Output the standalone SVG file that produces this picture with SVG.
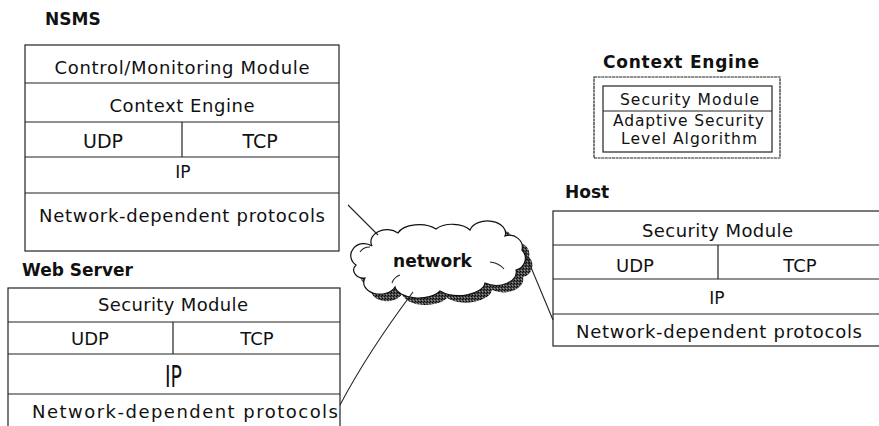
<svg xmlns="http://www.w3.org/2000/svg" width="879" height="426" viewBox="0 0 879 426">
  <style>
    .box { fill: #fff; stroke: #222; stroke-width: 1.2; }
    .div { stroke: #222; stroke-width: 1.2; fill: none; }
    .t { font-family: "DejaVu Sans", "Liberation Sans", sans-serif; font-size: 18px; fill: #111; text-anchor: middle; }
    .s { font-size: 15.5px; }
    .lbl { font-family: "DejaVu Sans", "Liberation Sans", sans-serif; font-size: 17px; font-weight: bold; fill: #111; }
    .wire { stroke: #222; stroke-width: 1.1; fill: none; }
  </style>
  <defs>
    <pattern id="grain" width="3" height="3" patternUnits="userSpaceOnUse">
      <rect width="3" height="3" fill="#4a4a4a"/>
      <rect x="0" y="0" width="1" height="1" fill="#000"/>
      <rect x="2" y="1" width="1" height="1" fill="#111"/>
      <rect x="1" y="2" width="1" height="1" fill="#999"/>
    </pattern>
    <path id="cloudShape" d="M 372,246 A 16,12 0 0 1 398,233 A 22,12 0 0 1 436,229 A 20,11 0 0 1 470,230 A 18,12 0 0 1 505,236 A 13,12 0 0 1 522,250 A 12,12 0 0 1 516,270 A 20,13 0 0 1 485,283 A 26,14 0 0 1 440,291 A 24,13 0 0 1 395,287 A 14,10 0 0 1 365,278 A 10,8 0 0 1 356,265 A 10,9 0 0 1 372,246 Z"/>
  </defs>

  <!-- NSMS protocol stack -->
  <g id="nsms">
    <text class="lbl" x="45" y="25">NSMS</text>
    <rect class="box" x="25" y="45" width="314" height="206"/>
    <line class="div" x1="25" y1="83" x2="339" y2="83"/>
    <line class="div" x1="25" y1="122" x2="339" y2="122"/>
    <line class="div" x1="25" y1="157" x2="339" y2="157"/>
    <line class="div" x1="25" y1="193" x2="339" y2="193"/>
    <line class="div" x1="182" y1="122" x2="182" y2="157"/>
    <text class="t" x="182" y="74" textLength="255">Control/Monitoring Module</text>
    <text class="t" x="182" y="112" textLength="145">Context Engine</text>
    <text class="t" x="103" y="148" style="font-size:19px">UDP</text>
    <text class="t" x="260" y="148" style="font-size:19px">TCP</text>
    <text class="t" x="183" y="178" style="font-size:17px">IP</text>
    <text class="t" x="182" y="222" textLength="286">Network-dependent protocols</text>
  </g>

  <!-- Context Engine detail -->
  <g id="context-engine">
    <text class="lbl" x="603" y="68" textLength="156">Context Engine</text>
    <rect class="box" x="594" y="77" width="186" height="81" stroke-dasharray="3 0.6"/>
    <rect class="box" x="603" y="86" width="169" height="66"/>
    <line class="div" x1="603" y1="111" x2="772" y2="111"/>
    <text class="t s" x="689.5" y="105" textLength="139">Security Module</text>
    <text class="t s" x="688.5" y="126" textLength="151">Adaptive Security</text>
    <text class="t s" x="689" y="144" textLength="136">Level Algorithm</text>
  </g>

  <!-- Host protocol stack -->
  <g id="host">
    <text class="lbl" x="565" y="198">Host</text>
    <rect class="box" x="553" y="211" width="340" height="135"/>
    <line class="div" x1="553" y1="245" x2="879" y2="245"/>
    <line class="div" x1="553" y1="279" x2="879" y2="279"/>
    <line class="div" x1="553" y1="314" x2="879" y2="314"/>
    <line class="div" x1="718" y1="245" x2="718" y2="279"/>
    <text class="t" x="717.5" y="237" textLength="151">Security Module</text>
    <text class="t" x="635" y="272">UDP</text>
    <text class="t" x="800" y="272">TCP</text>
    <text class="t" x="717" y="304" style="font-size:17px">IP</text>
    <text class="t" x="719" y="338" textLength="286">Network-dependent protocols</text>
  </g>

  <!-- Web Server protocol stack -->
  <g id="web-server">
    <text class="lbl" x="22" y="276">Web Server</text>
    <rect class="box" x="8" y="288" width="332" height="160"/>
    <line class="div" x1="8" y1="322" x2="340" y2="322"/>
    <line class="div" x1="8" y1="354" x2="340" y2="354"/>
    <line class="div" x1="8" y1="394" x2="340" y2="394"/>
    <line class="div" x1="173" y1="322" x2="173" y2="354"/>
    <text class="t" x="173" y="311" textLength="150">Security Module</text>
    <text class="t" x="90" y="345">UDP</text>
    <text class="t" x="257" y="345">TCP</text>
    <text class="t" x="173.5" y="387" style="font-size:30px" textLength="17" lengthAdjust="spacingAndGlyphs">IP</text>
    <text class="t" x="185" y="418" textLength="306">Network-dependent protocols</text>
  </g>

  <!-- Network cloud with halftone drop shadow -->
  <g id="network">
    <use href="#cloudShape" transform="translate(7,7)" fill="url(#grain)"/>
    <use href="#cloudShape" fill="#fff" stroke="#111" stroke-width="1.2"/>
    <path class="wire" d="M 360,252 q 3,-5 10,-5"/>
    <path class="wire" d="M 490,262 q 9,1 14,7"/>
    <path class="wire" d="M 392,283 q 2,-6 8,-8"/>
    <text x="432.5" y="267" text-anchor="middle" font-family="DejaVu Sans, Liberation Sans, sans-serif" font-size="17" font-weight="bold" fill="#111">network</text>
  </g>

  <!-- Links between hosts and the network -->
  <g id="connectors">
    <line class="wire" x1="348" y1="205" x2="378" y2="235"/>
    <path class="wire" d="M 340,405 Q 368,352 413,292"/>
    <line class="wire" x1="525" y1="253" x2="553" y2="320"/>
  </g>
</svg>
